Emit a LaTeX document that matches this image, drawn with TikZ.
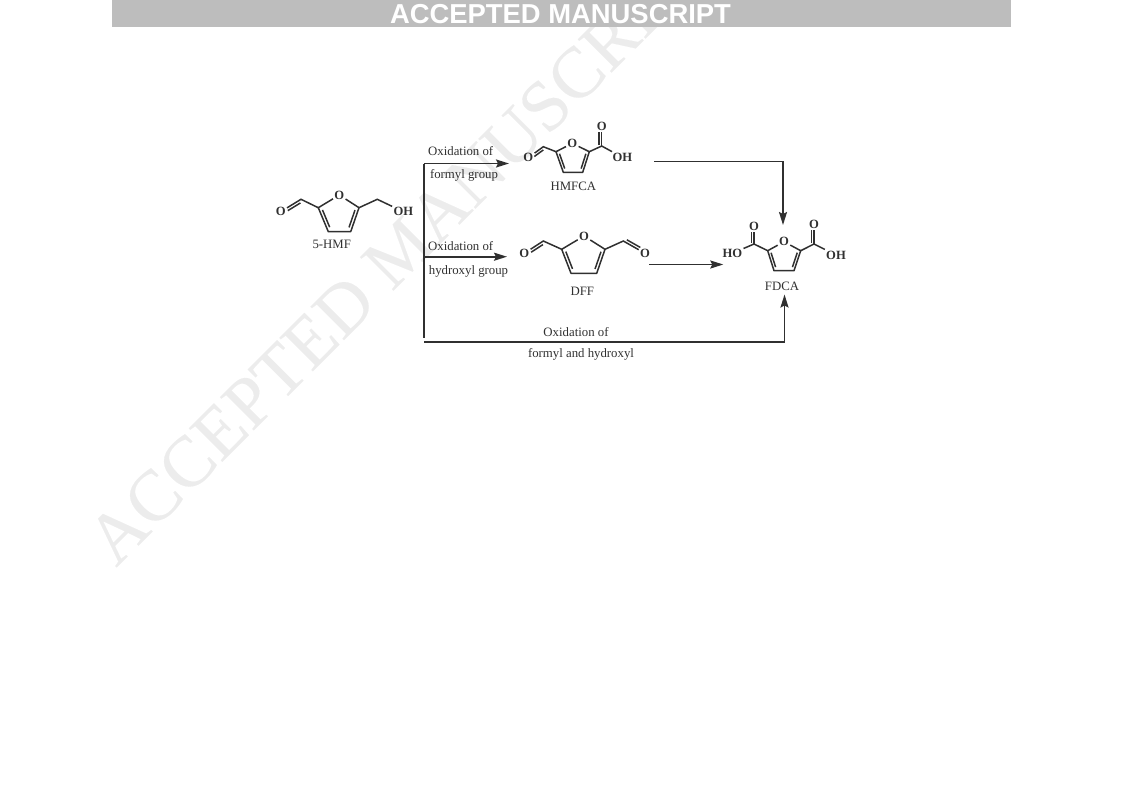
\documentclass[tikz,border=0pt]{standalone}
\usepackage{fontspec}
\setmainfont{Liberation Serif}
\newfontfamily\bannerfont{Liberation Sans}
\newfontfamily\wmfont[FakeBold=0.2]{Liberation Serif}
\usetikzlibrary{calc,arrows.meta}
\definecolor{ink}{HTML}{303030}
\definecolor{bannerbg}{HTML}{BDBDBD}
\definecolor{wmark}{HTML}{ECECEC}
\tikzset{
  bond/.style={draw=ink,line width=1.5pt},
  flow/.style={draw=ink,line width=1.9pt},
  flowarrow/.style={flow,-{Stealth[length=13pt,width=8pt,inset=2pt]}},
  atom/.style={inner sep=1.2pt,text=ink,font=\fontsize{12.6}{13}\selectfont\bfseries},
  lbl/.style={inner sep=0pt,text=ink,font=\fontsize{12.8}{13}\selectfont},
}
\newcommand{\inner}[5]{\draw[bond] ($(#1)!#4!(#2)!#3!90:(#2)$) -- ($(#1)!#5!(#2)!#3!90:(#2)$);}
\begin{document}
\begin{tikzpicture}[x=1pt,y=-1pt]
\useasboundingbox (0,0) rectangle (1121,793);
% watermark
\node[rotate=45,anchor=base west,inner sep=0pt,text=wmark,font=\wmfont\fontsize{72}{72}\selectfont] (wm) at (116,568) {ACCEPTED MANUSCRIPT};
% banner
\fill[bannerbg] (112,0) rectangle (1011,27);
\node[anchor=base,inner sep=0pt,text=white,font=\bannerfont\fontsize{27.4}{28}\selectfont\bfseries] (bt) at (560.5,23) {ACCEPTED MANUSCRIPT};

% 5-HMF
\node[atom] (aO) at (339.3,195) {O};
\coordinate (a2) at (318.3,207.7);
\coordinate (a3) at (328.3,231.7);
\coordinate (a4) at (350.7,231.7);
\coordinate (a5) at (359,207.7);
\coordinate (a6) at (301,199.3);
\node[atom] (a7) at (280.7,211.7) {O};
\coordinate (a8) at (377.3,199.3);
\node[atom] (a9) at (403.3,211.7) {OH};
\draw[bond,line join=round] (aO) -- (a2) -- (a3) -- (a4) -- (a5) -- (aO);
\inner{a2}{a3}{3pt}{.14}{.86}
\inner{a4}{a5}{3pt}{.14}{.86}
\draw[bond] (a2) -- (a6) -- (a7);
\inner{a6}{a7}{2.8pt}{.1}{.72}
\draw[bond] (a5) -- (a8) -- (a9);
\node[lbl] (aL) at (331.7,244) {5-HMF};

% HMFCA
\node[atom] (bO) at (572.3,143.3) {O};
\coordinate (b2) at (556,151.7);
\coordinate (b3) at (563.3,172.3);
\coordinate (b4) at (582.7,172.3);
\coordinate (b5) at (589.3,151.7);
\coordinate (b6) at (543.3,146.7);
\node[atom] (b7) at (528.3,157.7) {O};
\coordinate (b8) at (601.7,146);
\node[atom] (b9) at (601.7,126.7) {O};
\node[atom] (b10) at (622.3,157.3) {OH};
\draw[bond,line join=round] (bO) -- (b2) -- (b3) -- (b4) -- (b5) -- (bO);
\inner{b2}{b3}{2.6pt}{.14}{.86}
\inner{b4}{b5}{2.6pt}{.14}{.86}
\draw[bond] (b2) -- (b6) -- (b7);
\inner{b6}{b7}{2.6pt}{.1}{.7}
\draw[bond] (b5) -- (b8) -- (b10);
\draw[bond] (b8) -- (b9);
\inner{b8}{b9}{2.6pt}{.05}{.7}
\node[lbl] (bL) at (573.3,186) {HMFCA};

% DFF
\node[atom] (cO) at (584,236) {O};
\coordinate (c2) at (561.7,249.3);
\coordinate (c3) at (571,273.3);
\coordinate (c4) at (596.7,273.3);
\coordinate (c5) at (605,249.3);
\coordinate (c6) at (543.3,241);
\node[atom] (c7) at (524.3,253.3) {O};
\coordinate (c8) at (623.3,241);
\node[atom] (c9) at (645,253.3) {O};
\draw[bond,line join=round] (cO) -- (c2) -- (c3) -- (c4) -- (c5) -- (cO);
\inner{c2}{c3}{3pt}{.14}{.86}
\inner{c4}{c5}{3pt}{.14}{.86}
\draw[bond] (c2) -- (c6) -- (c7);
\inner{c6}{c7}{2.8pt}{.1}{.72}
\draw[bond] (c5) -- (c8) -- (c9);
\inner{c8}{c9}{2.8pt}{.1}{.72}
\node[lbl] (cL) at (582.3,291.7) {DFF};

% FDCA
\node[atom] (dO) at (784,241.7) {O};
\coordinate (d2) at (767.7,250.7);
\coordinate (d3) at (774,270.7);
\coordinate (d4) at (794,270.7);
\coordinate (d5) at (800.7,250.7);
\coordinate (d6) at (754,244);
\node[atom] (d7) at (754,226.7) {O};
\node[atom] (d8) at (732.3,253.3) {HO};
\coordinate (d9) at (814,244);
\node[atom] (d10) at (814,224) {O};
\node[atom] (d11) at (836,255) {OH};
\draw[bond,line join=round] (dO) -- (d2) -- (d3) -- (d4) -- (d5) -- (dO);
\inner{d2}{d3}{2.6pt}{.14}{.86}
\inner{d4}{d5}{2.6pt}{.14}{.86}
\draw[bond] (d2) -- (d6) -- (d8);
\draw[bond] (d6) -- (d7);
\inner{d6}{d7}{2.6pt}{.05}{.7}
\draw[bond] (d5) -- (d9) -- (d11);
\draw[bond] (d9) -- (d10);
\inner{d9}{d10}{2.6pt}{.05}{.7}
\node[lbl] (dL) at (782,286.7) {FDCA};

% flow lines
\coordinate (top) at (424.4,163.5);
\coordinate (mid) at (424.4,256.7);
\coordinate (bot) at (424.4,338);
\coordinate (base) at (424.4,341.7);
\coordinate (corner) at (784.5,341.7);
\coordinate (tipA) at (509,163.5);
\coordinate (tipB) at (507,256.7);
\coordinate (tipC) at (784.5,294.5);
\coordinate (hStart) at (654,161.5);
\coordinate (hCorner) at (783,161.5);
\coordinate (tipD) at (783,225);
\coordinate (fStart) at (649.3,264.5);
\coordinate (tipE) at (723.3,264.5);
\draw[flow] (top) -- (bot);
\draw[flowarrow] (top) -- (tipA);
\draw[flowarrow] (mid) -- (tipB);
\draw[flowarrow] (base) -- (corner) -- (tipC);
\draw[flowarrow] (hStart) -- (hCorner) -- (tipD);
\draw[flowarrow] (fStart) -- (tipE);

\node[lbl] (t1) at (460.7,151) {Oxidation of};
\node[lbl] (t2) at (464,175) {formyl group};
\node[lbl] (t3) at (460.7,246) {Oxidation of};
\node[lbl] (t4) at (468.5,271) {hydroxyl group};
\node[lbl] (t5) at (576,332) {Oxidation of};
\node[lbl] (t6) at (581,354) {formyl and hydroxyl};
\end{tikzpicture}
\end{document}
